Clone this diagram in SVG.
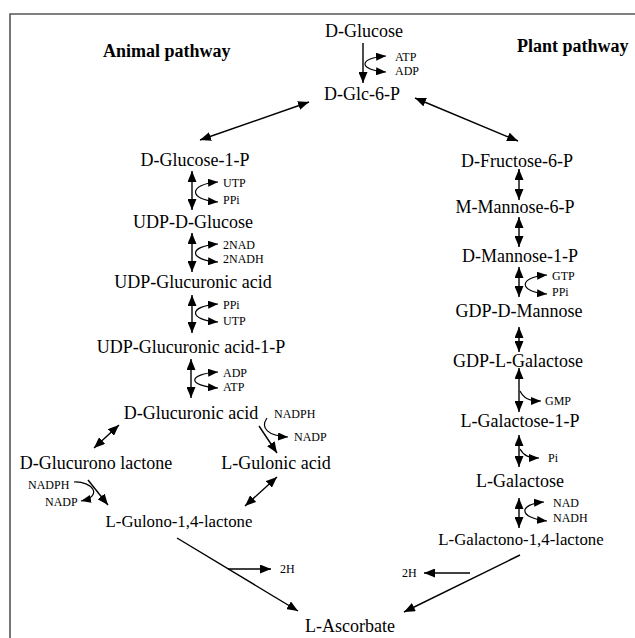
<svg xmlns="http://www.w3.org/2000/svg" width="635" height="638" viewBox="0 0 635 638">
<style>
.n{font-family:"Liberation Serif","Times New Roman",serif;font-size:18px;fill:#000;text-anchor:middle}
.m{font-size:16.8px}
.t{font-family:"Liberation Serif","Times New Roman",serif;font-size:18px;font-weight:bold;fill:#000}
.s{font-family:"Liberation Serif","Times New Roman",serif;font-size:12px;fill:#000}
.c{fill:none;stroke:#000;stroke-width:1.4}
.d{marker-start:url(#ah);marker-end:url(#ah)}
.e{marker-end:url(#ah)}
.k{fill:none;stroke:#000;stroke-width:1.2}
.k2{marker-start:url(#sh);marker-end:url(#sh)}
.k1{marker-end:url(#sh)}
.frame{fill:none;stroke:#555;stroke-width:1.6}
</style>
<defs>
<marker id="ah" markerUnits="userSpaceOnUse" markerWidth="11" markerHeight="9" refX="11" refY="4.5" orient="auto-start-reverse"><path d="M0,0 L11,4.5 L0,9 z" fill="#000"/></marker>
<marker id="sh" markerUnits="userSpaceOnUse" markerWidth="10" markerHeight="8" refX="10" refY="4" orient="auto-start-reverse"><path d="M0,0 L10,4 L0,8 z" fill="#000"/></marker>
</defs>
<rect width="635" height="638" fill="#fff"/>
<path class="frame" d="M10,638 L10,14 L635,14"/>
<text class="t" x="103" y="57">Animal pathway</text>
<text class="t" x="517" y="52">Plant pathway</text>

<g id="connectors">
<line class="c e" x1="363" y1="43" x2="363" y2="83"/>
<path class="k k2" d="M386,56 C358,58 358,70 386,72"/>
<line class="c d" x1="200" y1="140" x2="309" y2="102"/>
<line class="c d" x1="415" y1="98" x2="518" y2="141"/>
<!-- animal column -->
<line class="c d" x1="192" y1="171" x2="192" y2="210"/>
<path class="k k2" d="M218,182 C188,184 188,200 218,202"/>
<line class="c d" x1="192" y1="233" x2="192" y2="272"/>
<path class="k k2" d="M218,244 C188,246 188,260 218,262"/>
<line class="c d" x1="192" y1="295" x2="192" y2="333"/>
<path class="k k2" d="M218,304 C188,306 188,320 218,322"/>
<line class="c d" x1="191" y1="359" x2="191" y2="398"/>
<path class="k k2" d="M218,372 C187,374 187,386 218,388"/>
<line class="c d" x1="94" y1="448" x2="119" y2="425"/>
<line class="c e" x1="259" y1="426" x2="277" y2="453"/>
<path class="k k1" d="M267,418 C260,428 268,436 288,437"/>
<line class="c d" x1="277" y1="477" x2="245" y2="506"/>
<line class="c e" x1="88" y1="480" x2="108" y2="505"/>
<path class="k k1" d="M74,482 C92,481 104,496 81,501"/>
<!-- plant column -->
<line class="c d" x1="519" y1="169" x2="519" y2="200"/>
<line class="c d" x1="519" y1="217" x2="519" y2="247"/>
<line class="c d" x1="519" y1="267" x2="519" y2="297"/>
<path class="k k2" d="M547,275 C518,277 518,292 547,294"/>
<line class="c d" x1="519" y1="327" x2="519" y2="352"/>
<line class="c d" x1="519" y1="368" x2="519" y2="412"/>
<path class="k k1" d="M520,391 C524,399 530,401 541,401"/>
<line class="c d" x1="519" y1="435" x2="519" y2="467"/>
<path class="k k1" d="M520,449 C524,456 529,458 539,458"/>
<line class="c d" x1="519" y1="498" x2="519" y2="528"/>
<path class="k k2" d="M544,502 C518,504 518,518 547,521"/>
<!-- to ascorbate -->
<line class="c e" x1="177" y1="538" x2="298" y2="611"/>
<line class="c e" x1="228" y1="569" x2="271" y2="569"/>
<line class="c e" x1="520" y1="555" x2="404" y2="612"/>
<line class="c e" x1="470" y1="573" x2="424" y2="573"/>
</g>

<g id="cofactors">
<text class="s" x="395" y="61">ATP</text>
<text class="s" x="395" y="75">ADP</text>
<text class="s" x="223" y="187">UTP</text>
<text class="s" x="223" y="204">PPi</text>
<text class="s" x="223" y="249">2NAD</text>
<text class="s" x="223" y="263">2NADH</text>
<text class="s" x="223" y="309">PPi</text>
<text class="s" x="223" y="325">UTP</text>
<text class="s" x="223" y="377">ADP</text>
<text class="s" x="223" y="391">ATP</text>
<text class="s" x="274" y="418">NADPH</text>
<text class="s" x="294" y="441">NADP</text>
<text class="s" x="28" y="489">NADPH</text>
<text class="s" x="45" y="506">NADP</text>
<text class="s" x="552" y="280">GTP</text>
<text class="s" x="552" y="296">PPi</text>
<text class="s" x="545" y="405">GMP</text>
<text class="s" x="548" y="462">Pi</text>
<text class="s" x="553" y="507">NAD</text>
<text class="s" x="553" y="522">NADH</text>
<text class="s" x="280" y="573">2H</text>
<text class="s" x="402" y="577">2H</text>
</g>

<g id="n-dglucose"><text class="n" x="364" y="37">D-Glucose</text></g>
<g id="n-dglc6p"><text class="n" x="362" y="100">D-Glc-6-P</text></g>
<g id="n-dglucose1p"><text class="n" x="195" y="166">D-Glucose-1-P</text></g>
<g id="n-udpdglucose"><text class="n" x="193" y="228">UDP-D-Glucose</text></g>
<g id="n-udpglucuronic"><text class="n" x="193" y="288">UDP-Glucuronic acid</text></g>
<g id="n-udpglucuronic1p"><text class="n" x="191" y="353">UDP-Glucuronic acid-1-P</text></g>
<g id="n-dglucuronic"><text class="n" x="191" y="419">D-Glucuronic acid</text></g>
<g id="n-dglucuronolactone"><text class="n" x="96" y="469">D-Glucurono lactone</text></g>
<g id="n-lgulonic"><text class="n" x="276" y="469">L-Gulonic acid</text></g>
<g id="n-lgulonolactone"><text class="n m" x="179" y="527">L-Gulono-1,4-lactone</text></g>
<g id="n-dfructose6p"><text class="n" x="517" y="167">D-Fructose-6-P</text></g>
<g id="n-mmannose6p"><text class="n" x="515" y="213">M-Mannose-6-P</text></g>
<g id="n-dmannose1p"><text class="n" x="520" y="262">D-Mannose-1-P</text></g>
<g id="n-gdpdmannose"><text class="n" x="519" y="317">GDP-D-Mannose</text></g>
<g id="n-gdplgalactose"><text class="n" x="518" y="367">GDP-L-Galactose</text></g>
<g id="n-lgalactose1p"><text class="n" x="520" y="427">L-Galactose-1-P</text></g>
<g id="n-lgalactose"><text class="n" x="520" y="487">L-Galactose</text></g>
<g id="n-lgalactonolactone"><text class="n m" x="521" y="545">L-Galactono-1,4-lactone</text></g>
<g id="n-lascorbate"><text class="n" x="350" y="632">L-Ascorbate</text></g>
</svg>
